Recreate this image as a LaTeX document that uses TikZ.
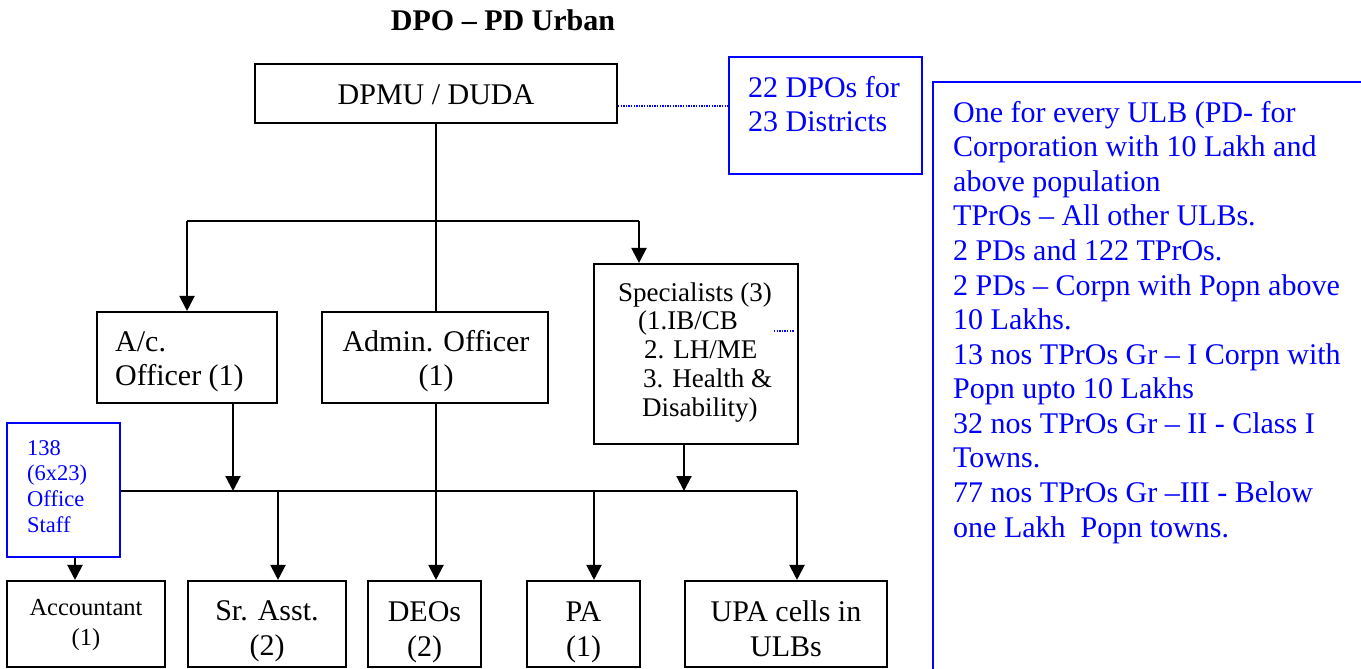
\documentclass[tikz,border=0pt]{standalone}
\usepackage{fontspec}
\setmainfont{Liberation Serif}
\usetikzlibrary{arrows.meta}
\definecolor{noteblue}{RGB}{0,0,255}
\tikzset{
  box/.style={draw, line width=2.1pt, inner sep=0pt},
  notebox/.style={draw=noteblue, line width=2.1pt, inner sep=0pt},
  link/.style={line width=2.1pt},
  arr/.style={line width=2.1pt, -{Triangle[width=15pt,length=15pt]}},
  dots/.style={noteblue, line width=1.3pt, dash pattern=on 1.3pt off 1.3pt},
  txt/.style={inner sep=0pt, font=\fontsize{30}{34.6}\selectfont},
  bottxt/.style={inner sep=0pt, font=\fontsize{30}{35.5}\selectfont},
  smalltxt/.style={inner sep=0pt, font=\fontsize{27}{28.8}\selectfont},
  stafftxt/.style={inner sep=0pt, text=noteblue, font=\fontsize{22.5}{25.8}\selectfont},
  acctxt/.style={inner sep=0pt, font=\fontsize{24.5}{30}\selectfont},
}
\newcommand{\stackL}[1]{\begin{tabular}[t]{@{}l@{}}#1\end{tabular}}
\newcommand{\stackC}[1]{\begin{tabular}[t]{@{}c@{}}#1\end{tabular}}

\begin{document}
\begin{tikzpicture}[x=1pt,y=-1pt]
\useasboundingbox (0,0) rectangle (1361,669);
\clip (0,0) rectangle (1361,669);

% title
\node[txt, font=\fontsize{30}{34.6}\selectfont\bfseries, anchor=base] (title) at (503,31) {DPO – PD Urban};

% boxes
\node[box, minimum width=362pt, minimum height=59pt] (dpmu) at (436,93.5) {};
\node[notebox, minimum width=193pt, minimum height=117pt] (dpo) at (825.5,115.5) {};
\node[notebox, minimum width=467pt, minimum height=638pt] (note) at (1166.5,401) {};
\node[box, minimum width=180pt, minimum height=91pt] (acc) at (187,357.5) {};
\node[box, minimum width=226pt, minimum height=91pt] (adm) at (435,357.5) {};
\node[box, minimum width=204pt, minimum height=180pt] (spec) at (696,354) {};
\node[notebox, minimum width=113pt, minimum height=134pt] (staff) at (63.5,490) {};
\node[box, minimum width=158pt, minimum height=86pt] (acct) at (86,624) {};
\node[box, minimum width=158pt, minimum height=86pt] (sra) at (267,624) {};
\node[box, minimum width=113pt, minimum height=86pt] (deo) at (424.5,624) {};
\node[box, minimum width=113pt, minimum height=86pt] (pa) at (583.5,624) {};
\node[box, minimum width=202pt, minimum height=86pt] (upa) at (786,624) {};

% box texts
\node[txt, anchor=base] (dpmuT) at (436,104) {DPMU / DUDA};
\node[txt, text=noteblue, anchor=base west] (dpoT) at (748,97) {\stackL{22 DPOs for\\23 Districts}};
\node[txt, text=noteblue, anchor=base west] (noteT) at (953,122) {\stackL{%
One for every ULB (PD- for\\
Corporation with 10 Lakh and\\
above population\\
TPrOs – All other ULBs.\\
2 PDs and 122 TPrOs.\\
2 PDs – Corpn with Popn above\\
10 Lakhs.\\
13 nos TPrOs Gr – I Corpn with\\
Popn upto 10 Lakhs\\
32 nos TPrOs Gr – II - Class I\\
Towns.\\
77 nos TPrOs Gr –III - Below\\
one Lakh\ \ Popn towns.}};
\node[txt, anchor=base west] (accT) at (115,351) {\stackL{A/c.\\Officer (1)}};
\node[txt, anchor=base] (admT) at (436,351) {\stackC{Admin. Officer\\(1)}};
\node[smalltxt, anchor=base west] (specT) at (618,301) {\stackL{%
Specialists (3)\\
\hspace*{20pt}(1.IB/CB\\
\hspace*{26pt}2. LH/ME\\
\hspace*{25pt}3. Health \&\\
\hspace*{24pt}Disability)}};
\node[stafftxt, anchor=base west] (staffT) at (27,455) {\stackL{138\\(6x23)\\Office\\Staff}};
\node[acctxt, anchor=base] (acctT) at (86,615) {\stackC{Accountant\\(1)}};
\node[bottxt, anchor=base] (sraT) at (267,620) {\stackC{Sr. Asst.\\(2)}};
\node[bottxt, anchor=base] (deoT) at (424.5,621) {\stackC{DEOs\\(2)}};
\node[bottxt, anchor=base] (paT) at (583.5,621) {\stackC{PA\\(1)}};
\node[bottxt, anchor=base] (upaT) at (786,621) {\stackC{UPA cells in\\ULBs}};

% connectors from the top box
\draw[link] (dpmu.south) -- (dpmu.south |- adm.north);
\coordinate (jA) at (187,221);
\coordinate (jS) at (639,221);
\draw[link] (jA) -- (jS);
\draw[arr] (jA) -- (jA |- acc.north);
\draw[arr] (jS) -- (jS |- spec.north);

% lower bus
\coordinate (busR) at (797,491);
\draw[link] ([yshift=-1pt]staff.east) -- (busR);
\draw[arr] ([xshift=46pt]acc.south) -- ([xshift=46pt]acc.south |- busR);
\draw[arr] ([xshift=-12pt]spec.south) -- ([xshift=-12pt]spec.south |- busR);
\draw[arr] ([xshift=11pt]sra.north |- busR) -- ([xshift=11pt]sra.north);
\draw[arr] ([xshift=10.5pt]pa.north |- busR) -- ([xshift=10.5pt]pa.north);
\draw[arr] (busR) -- (busR |- upa.north);
\draw[arr] ([xshift=1pt]adm.south) -- ([xshift=1pt]adm.south |- deo.north);
\draw[arr] ([xshift=11.5pt]staff.south) -- ([xshift=11.5pt]staff.south |- acct.north);

% dotted note links
\draw[dots] ([yshift=-12.5pt]dpmu.east) -- ([yshift=-12.5pt]dpmu.east -| dpo.west);
\coordinate (d1) at (774,331);
\coordinate (d2) at (794,331);
\draw[dots] (d1) -- (d2);
\end{tikzpicture}
\end{document}
